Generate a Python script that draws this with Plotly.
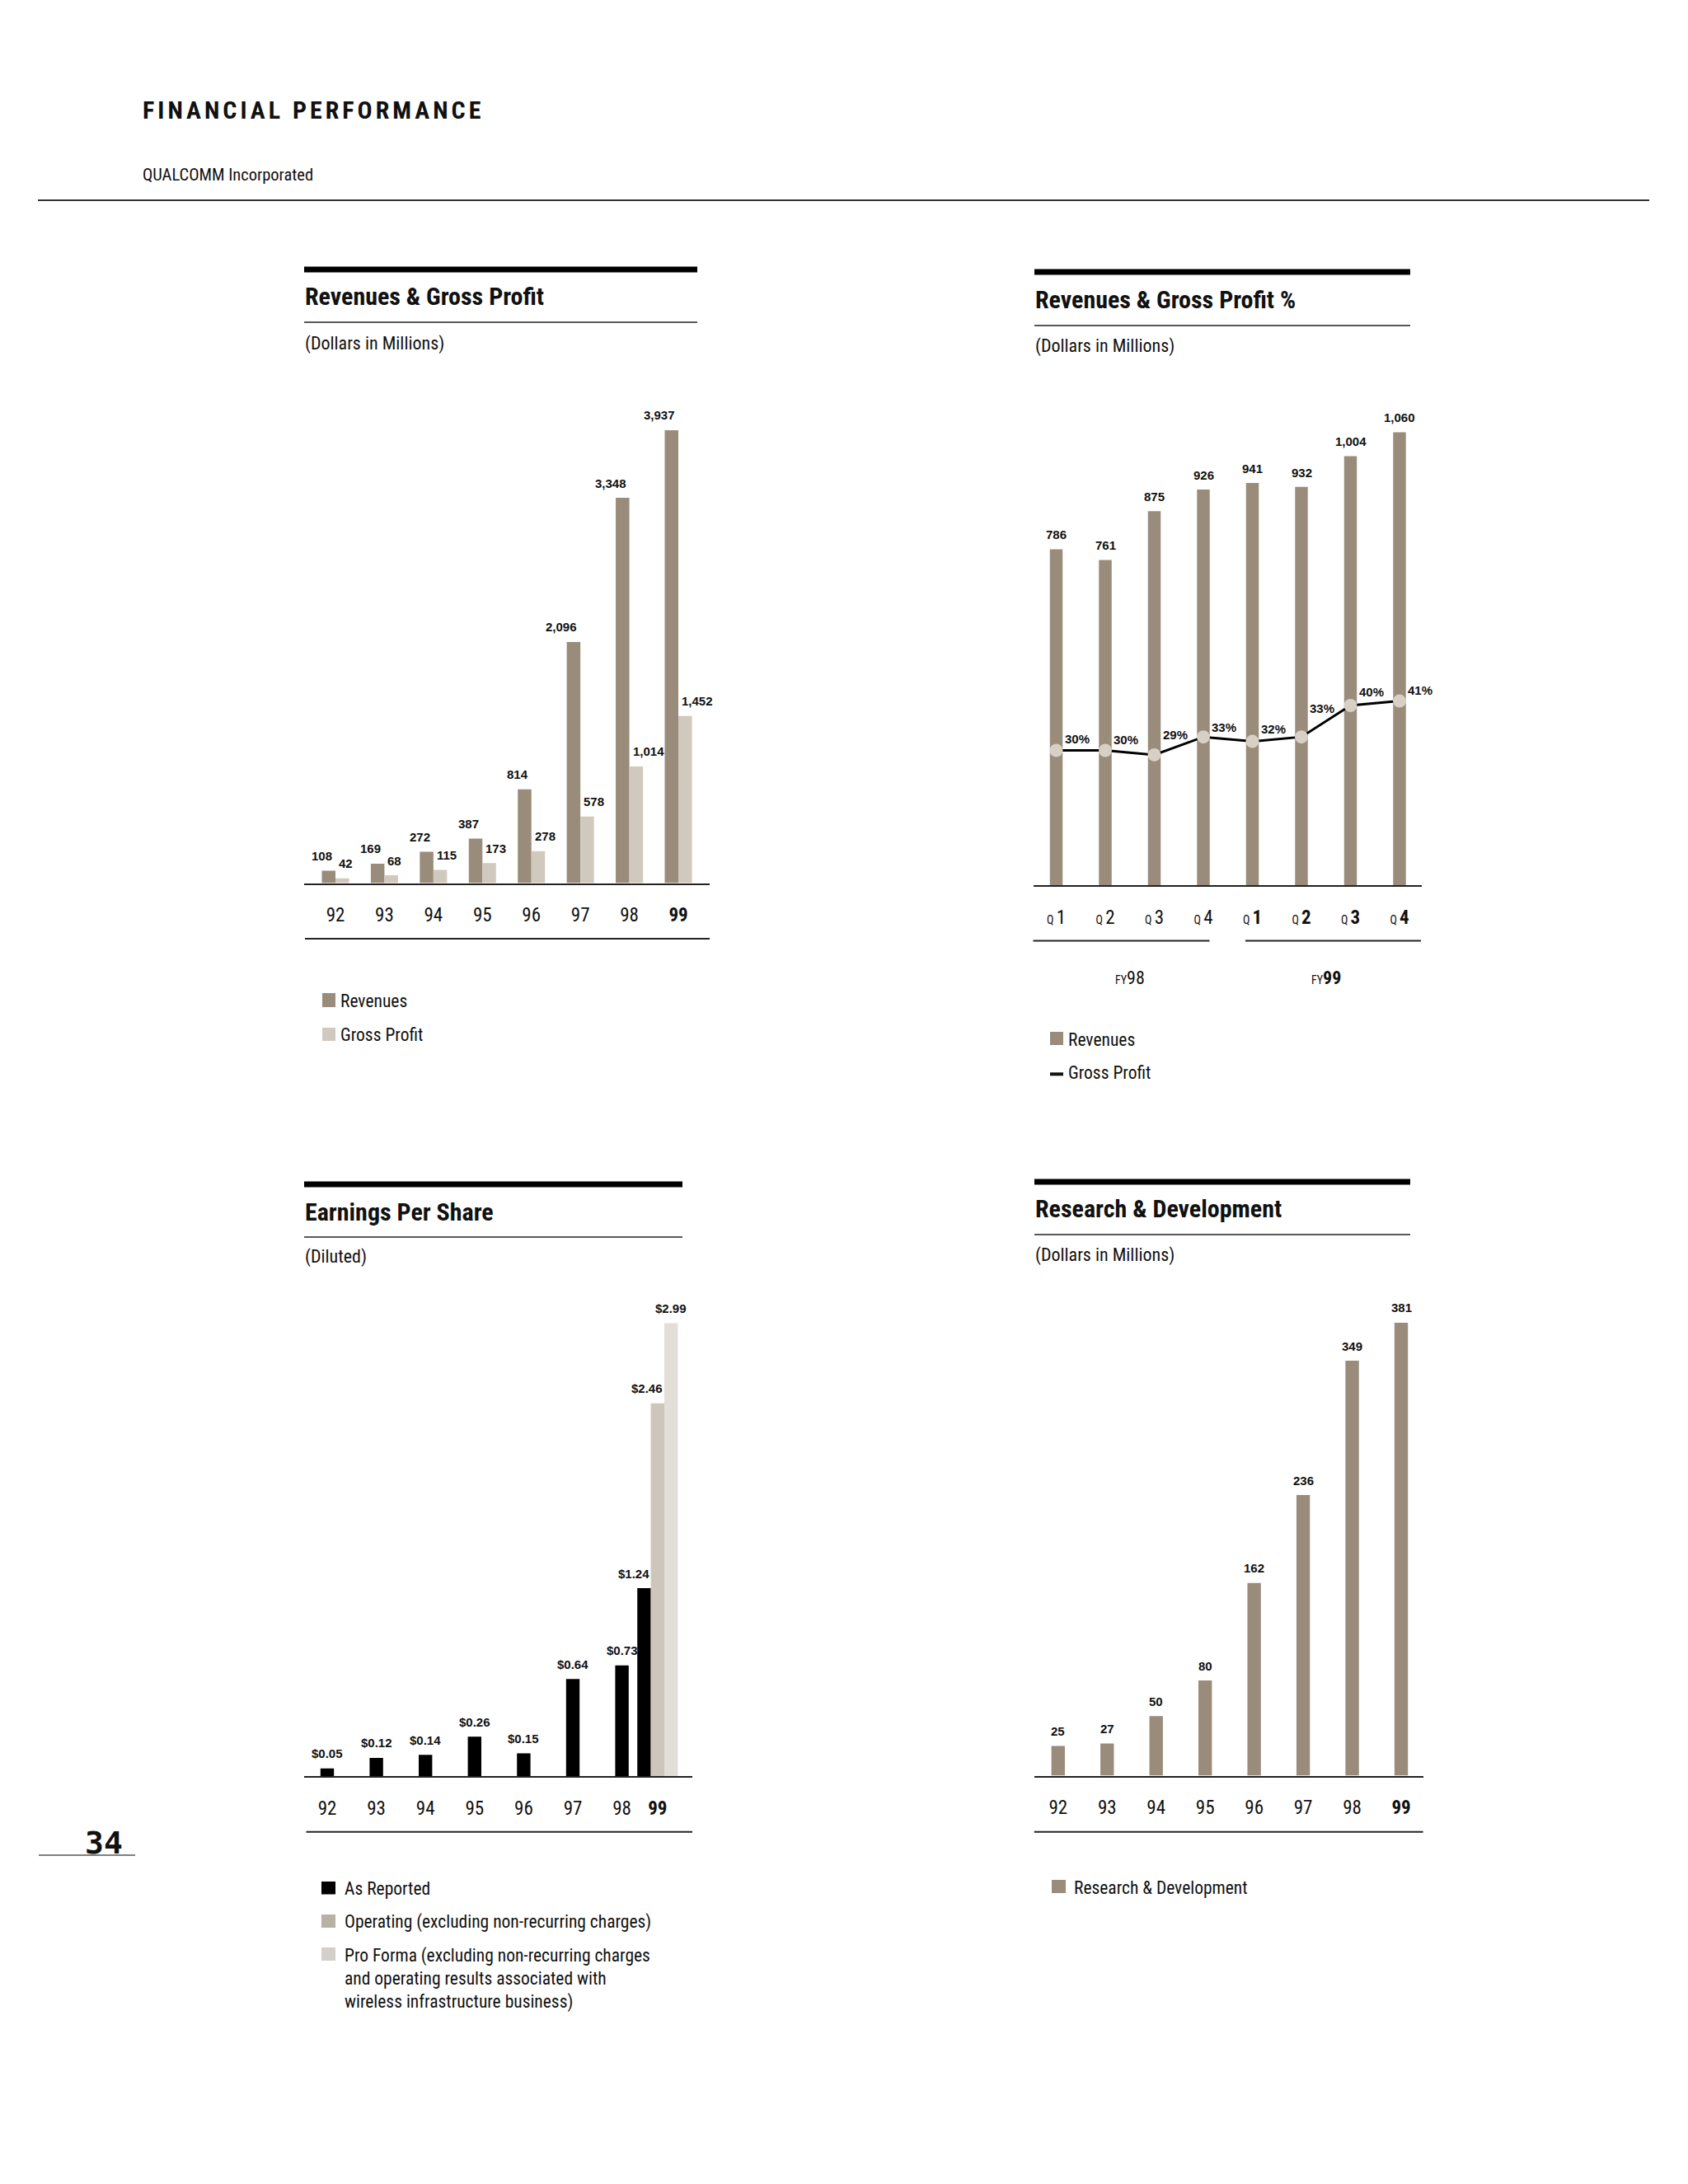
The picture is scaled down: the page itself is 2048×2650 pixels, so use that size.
import plotly.graph_objects as go

W, H = 2048, 2650
OFF = 8                      # default body margin of the html page
FW, FH = W - 2 * OFF, H - 2 * OFF

# ---------------- data ----------------
YEARS = ["92", "93", "94", "95", "96", "97", "98", "99"]
REVENUES = [108, 169, 272, 387, 814, 2096, 3348, 3937]
GROSS_PROFIT = [42, 68, 115, 173, 278, 578, 1014, 1452]

QUARTERS = ["1", "2", "3", "4", "1", "2", "3", "4"]
FISCAL_YEARS = ["98", "98", "98", "98", "99", "99", "99", "99"]
Q_REVENUES = [786, 761, 875, 926, 941, 932, 1004, 1060]
Q_GP_PCT = [30, 30, 29, 33, 32, 33, 40, 41]

EPS_AS_REPORTED = [0.05, 0.12, 0.14, 0.26, 0.15, 0.64, 0.73, 1.24]
EPS_OPERATING = [None, None, None, None, None, None, None, 2.46]
EPS_PRO_FORMA = [None, None, None, None, None, None, None, 2.99]

RD = [25, 27, 50, 80, 162, 236, 349, 381]

# ---------------- style ----------------
NARROW = "Roboto Condensed, DejaVu Sans Condensed, sans-serif"
SANS = "Liberation Sans, Arial, Helvetica, sans-serif"
MONO = "DejaVu Sans Mono, Liberation Mono, monospace"
INK = "#111111"
REV_C = "#998c7a"
GP_C = "#d1c9bd"
MARK_C = "#d8d0c4"
OP_C = "#cdc6ba"
PF_C = "#e3ded7"
LEG_GP = "#d0c9bf"
LEG_OP = "#b8b1a5"
LEG_PF = "#d4cfc8"
LEG_SIZE = 21.5

PLOT_H = 600
MAXBAR_PX = 549.6
PCT_PX = 5.45
LBL_DY = 18
PCT_LABEL_DY = [14, 13, 24, 12, 15, 35, 17, 13]
LBL_FONT = dict(family=SANS, size=15, color=INK, weight="bold")


def X(p):
    return (p - OFF) / FW


def Y(p):
    return 1 - (p - OFF) / FH


shapes = []
annotations = []


def hline(x0, x1, y, w=2, color="#222222"):
    shapes.append(dict(type="line", xref="paper", yref="paper", x0=X(x0), x1=X(x1),
                       y0=Y(y), y1=Y(y), line=dict(color=color, width=w)))


def rect(x0, x1, y0, y1, color):
    shapes.append(dict(type="rect", xref="paper", yref="paper", x0=X(x0), x1=X(x1),
                       y0=Y(y0), y1=Y(y1), fillcolor=color, line=dict(width=0)))


def text(x, y, s, size, family=NARROW, weight="normal", xanchor="left", yanchor="middle", color=INK):
    annotations.append(dict(xref="paper", yref="paper", x=X(x), y=Y(y), text=s, showarrow=False,
                            xanchor=xanchor, yanchor=yanchor, align="left",
                            font=dict(size=size, family=family, color=color, weight=weight)))


layout_axes = {}


def make_axes(n, x0, x1, base, c0, step, vmax, tickvals, ticktext):
    sx = "" if n == 1 else str(n)
    layout_axes["xaxis" + sx] = dict(
        domain=[X(x0), X(x1)], range=[(x0 - c0) / step, (x1 - c0) / step],
        tickvals=tickvals, ticktext=ticktext, showline=True, linecolor="#222222", linewidth=2,
        showgrid=False, zeroline=False, ticks="", ticklabelstandoff=17,
        tickfont=dict(family=NARROW, size=23, color=INK), anchor="y" + sx, fixedrange=True)
    layout_axes["yaxis" + sx] = dict(
        domain=[Y(base), Y(base - PLOT_H)], range=[0, vmax * PLOT_H / MAXBAR_PX],
        visible=False, anchor="x" + sx, fixedrange=True)


fig = go.Figure()

# ---------------- header ----------------
text(171, 134, "<span style='letter-spacing:4px'>FINANCIAL PERFORMANCE</span>", 30, NARROW, "bold")
text(171, 212, "QUALCOMM Incorporated", 20.5, NARROW)
hline(46, 2001, 243, 2, "#333333")

# page number
text(126, 2236, "34", 38, MONO, "bold", xanchor="center")
hline(47, 164, 2251, 1.5, "#555555")


def panel_header(x0, x1, ytop, title, sub, dy_title, dy_rule, dy_sub):
    rect(x0, x1, ytop - 3.5, ytop + 3.5, "#000000")
    text(x0 - 1, ytop + dy_title, title, 30, NARROW, "bold")
    hline(x0, x1, ytop + dy_rule, 1.5, "#222222")
    text(x0 - 1, ytop + dy_sub, sub, 22, NARROW)


# ================= Panel 1: Revenues & Gross Profit =================
idx1 = list(range(len(YEARS)))
w1 = 0.278
make_axes(1, 369, 861, 1071.5, 407, 59.43, max(REVENUES), idx1,
          [("<b>%s</b>" % y) if i == len(YEARS) - 1 else y for i, y in enumerate(YEARS)])
fig.add_bar(x=idx1, y=REVENUES, width=w1, offset=-w1, marker=dict(color=REV_C, line=dict(width=0)),
            name="Revenues", xaxis="x", yaxis="y", showlegend=False, hoverinfo="skip")
fig.add_bar(x=idx1, y=GROSS_PROFIT, width=w1, offset=0, marker=dict(color=GP_C, line=dict(width=0)),
            name="Gross Profit", xaxis="x", yaxis="y", showlegend=False, hoverinfo="skip")
for i, v in enumerate(REVENUES):
    annotations.append(dict(xref="x", yref="y", x=i, y=v, text=f"{v:,}", showarrow=False,
                            xanchor="right", yanchor="middle", xshift=-2, yshift=LBL_DY, font=LBL_FONT))
for i, v in enumerate(GROSS_PROFIT):
    annotations.append(dict(xref="x", yref="y", x=i, y=v, text=f"{v:,}", showarrow=False,
                            xanchor="left", yanchor="middle", xshift=2, yshift=LBL_DY, font=LBL_FONT))
panel_header(369, 846, 327, "Revenues &amp; Gross Profit", "(Dollars in Millions)", 33, 64, 90)
hline(370, 861, 1139, 2)
rect(391, 407, 1205, 1222, REV_C)
text(411, 1214, "Revenues", LEG_SIZE)
rect(391, 407, 1247, 1263, LEG_GP)
text(411, 1255, "Gross Profit", LEG_SIZE)

# ================= Panel 2: Revenues & Gross Profit % =================
idx2 = list(range(len(QUARTERS)))
w2 = 0.26
qtext = []
for q, fy in zip(QUARTERS, FISCAL_YEARS):
    digit = ("<b>%s</b>" % q) if fy == FISCAL_YEARS[-1] else q
    qtext.append("<span style='font-size:14px'>Q </span>" + digit)
make_axes(2, 1253.5, 1724.5, 1074, 1281.5, 59.5, max(Q_REVENUES), idx2, qtext)
layout_axes["yaxis5"] = dict(overlaying="y2", range=[0, PLOT_H / PCT_PX], visible=False,
                             anchor="x2", fixedrange=True)
fig.add_bar(x=idx2, y=Q_REVENUES, width=w2, offset=-w2 / 2, marker=dict(color=REV_C, line=dict(width=0)),
            name="Revenues", xaxis="x2", yaxis="y2", showlegend=False, hoverinfo="skip")
fig.add_scatter(x=idx2, y=Q_GP_PCT, mode="lines+markers", line=dict(color="#000000", width=3),
                marker=dict(size=16, color=MARK_C, line=dict(width=0)),
                name="Gross Profit", xaxis="x2", yaxis="y5", showlegend=False, hoverinfo="skip")
for i, v in enumerate(Q_REVENUES):
    annotations.append(dict(xref="x2", yref="y2", x=i, y=v, text=f"{v:,}", showarrow=False,
                            xanchor="center", yanchor="middle", yshift=17.5, font=LBL_FONT))
for i, v in enumerate(Q_GP_PCT):
    annotations.append(dict(xref="x2", yref="y5", x=i, y=v, text=f"{v}%", showarrow=False,
                            xanchor="center", yanchor="middle", xshift=25, yshift=PCT_LABEL_DY[i],
                            font=LBL_FONT))
panel_header(1255, 1711, 330, "Revenues &amp; Gross Profit %", "(Dollars in Millions)", 33, 65, 90.5)
hline(1253.5, 1467.5, 1141.5, 2)
hline(1511, 1724, 1141.5, 2)
text(1371, 1187, "<span style='font-size:14px'>FY</span>" + FISCAL_YEARS[0], 22, xanchor="center")
text(1609, 1187, "<span style='font-size:14px'>FY</span><b>" + FISCAL_YEARS[-1] + "</b>", 22,
     xanchor="center")
rect(1274, 1290, 1252, 1268, REV_C)
text(1294, 1261.5, "Revenues", LEG_SIZE)
rect(1274, 1290, 1301.3, 1305.3, "#111111")
text(1294, 1301.7, "Gross Profit", LEG_SIZE)

# ================= Panel 3: Earnings Per Share =================
idx3 = list(range(len(YEARS)))
w3 = 0.275
last = len(YEARS) - 1
ar_offset = [-w3 / 2 if i < last else -2.5 * w3 for i in idx3]
eps_max = max(v for v in EPS_AS_REPORTED + EPS_OPERATING + EPS_PRO_FORMA if v is not None)
tick3 = [i if i < last else i - w3 for i in idx3]
make_axes(3, 369.3, 840, 2155, 397, 59.6, eps_max, tick3,
          [("<b>%s</b>" % y) if i == last else y for i, y in enumerate(YEARS)])
fig.add_bar(x=idx3, y=EPS_AS_REPORTED, width=w3, offset=ar_offset,
            marker=dict(color="#000000", line=dict(width=0)),
            name="As Reported", xaxis="x3", yaxis="y3", showlegend=False, hoverinfo="skip")
fig.add_bar(x=idx3, y=EPS_OPERATING, width=w3, offset=-1.5 * w3,
            marker=dict(color=OP_C, line=dict(width=0)),
            name="Operating", xaxis="x3", yaxis="y3", showlegend=False, hoverinfo="skip")
fig.add_bar(x=idx3, y=EPS_PRO_FORMA, width=w3, offset=-0.5 * w3,
            marker=dict(color=PF_C, line=dict(width=0)),
            name="Pro Forma", xaxis="x3", yaxis="y3", showlegend=False, hoverinfo="skip")
for series, offs in ((EPS_AS_REPORTED, ar_offset), (EPS_OPERATING, [-1.5 * w3] * len(idx3)),
                     (EPS_PRO_FORMA, [-0.5 * w3] * len(idx3))):
    for i, v in enumerate(series):
        if v is None:
            continue
        left = i + offs[i]
        if i == last and series is not EPS_PRO_FORMA:
            xa, xv = "right", left + w3
        else:
            xa, xv = "center", left + w3 / 2
        annotations.append(dict(xref="x3", yref="y3", x=xv, y=v, text=f"${v:.2f}", showarrow=False,
                                xanchor=xa, yanchor="middle", yshift=LBL_DY, font=LBL_FONT))
panel_header(369, 828, 1437, "Earnings Per Share", "(Diluted)", 33, 64, 88)
hline(371.5, 840, 2222.7, 2)
rect(390, 407, 2283, 2298.5, "#000000")
text(416, 2291.5, "As Reported", LEG_SIZE)
rect(390, 407, 2323, 2339, LEG_OP)
text(416, 2331.5, "Operating (excluding non-recurring charges)", LEG_SIZE)
rect(390, 407, 2363, 2379, LEG_PF)
text(416, 2401, "Pro Forma (excluding non-recurring charges<br>and operating results associated with"
     "<br>wireless infrastructure business)", LEG_SIZE)

# ================= Panel 4: Research & Development =================
idx4 = list(range(len(YEARS)))
w4 = 0.275
make_axes(4, 1254.8, 1726.6, 2154.5, 1283.8, 59.46, max(RD), idx4,
          [("<b>%s</b>" % y) if i == len(YEARS) - 1 else y for i, y in enumerate(YEARS)])
fig.add_bar(x=idx4, y=RD, width=w4, offset=-w4 / 2, marker=dict(color=REV_C, line=dict(width=0)),
            name="Research & Development", xaxis="x4", yaxis="y4", showlegend=False, hoverinfo="skip")
for i, v in enumerate(RD):
    annotations.append(dict(xref="x4", yref="y4", x=i, y=v, text=f"{v}", showarrow=False,
                            xanchor="center", yanchor="middle", yshift=LBL_DY, font=LBL_FONT))
panel_header(1255, 1711, 1434, "Research &amp; Development", "(Dollars in Millions)", 32.5, 64, 89)
hline(1254.8, 1726.6, 2222.7, 2)
rect(1276, 1293, 2281, 2297, REV_C)
text(1301, 2290.5, "Research &amp; Development", LEG_SIZE)

fig.update_layout(
    width=FW, height=FH, autosize=False,
    margin=dict(l=0, r=0, t=0, b=0, pad=0),
    paper_bgcolor="#ffffff", plot_bgcolor="#ffffff",
    barmode="overlay", showlegend=False,
    shapes=shapes, annotations=annotations,
    **layout_axes,
)

fig.write_html("out.html", include_plotlyjs=True, config={"displayModeBar": False})
